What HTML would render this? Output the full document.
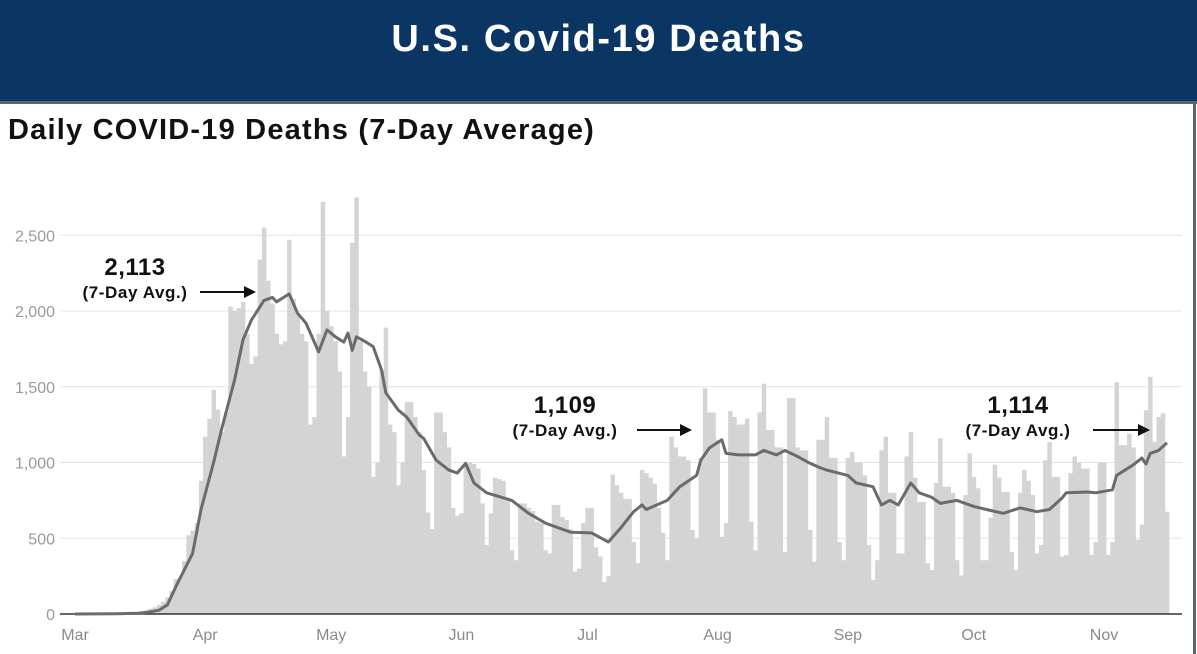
<!DOCTYPE html>
<html><head><meta charset="utf-8"><style>
html,body{margin:0;padding:0;background:#fff;}
body{width:1197px;height:654px;overflow:hidden;position:relative;font-family:"Liberation Sans",sans-serif;}
#hdr{position:absolute;left:0;top:0;width:1197px;height:101px;background:#0b3663;border-bottom:3px solid #5d6670;}
#hdr h1{margin:0;color:#fff;font-size:38px;font-weight:bold;text-align:center;line-height:78px;letter-spacing:1.6px;}
#sub{position:absolute;left:8px;top:114px;font-size:29px;font-weight:bold;color:#111;letter-spacing:1.2px;}
#rb{position:absolute;left:1193px;top:101px;width:3px;height:553px;background:#5d6670;}
svg{position:absolute;left:0;top:0;}
</style></head><body>
<div id="hdr"><h1>U.S. Covid-19 Deaths</h1></div>
<div id="sub">Daily COVID-19 Deaths (7-Day Average)</div>
<div id="rb"></div>
<svg id="chart" width="1197" height="654"></svg>
<script>
const yTicks=[0,500,1000,1500,2000,2500];
const yTickLabels=["0","500","1,000","1,500","2,000","2,500"];
const xMonthDays=[0,31,61,92,122,153,184,214,245];
const xMonthLabels=["Mar","Apr","May","Jun","Jul","Aug","Sep","Oct","Nov"];
const dailyDeaths=[
0,0,1,1,2,2,3,3,4,4,5,6,8,9,12,15,20,25,35,45,60,80,110,150,230,240,350,520,550,600,880,
1170,1290,1480,1350,1200,1330,2030,2000,2020,2060,1850,1650,1700,2340,2550,2200,2050,1850,1780,1800,2470,2080,1980,1850,1800,1250,1300,1850,2720,2000,
1900,1800,1600,1040,1300,2450,2750,1800,1600,1500,905,1000,1610,1890,1250,1200,850,1000,1400,1400,1300,1200,950,670,560,1330,1330,1200,1100,700,650,
665,980,1000,990,960,730,455,665,900,890,880,750,420,355,730,730,700,680,610,600,420,400,720,720,640,620,560,280,300,600,
700,700,440,380,210,250,920,850,800,760,760,475,335,950,930,900,860,700,535,355,1170,1100,1040,1040,1015,555,500,1030,1490,1330,1330,
1150,510,600,1340,1300,1250,1250,1290,610,420,1330,1520,1215,1215,1100,1100,410,1425,1425,1100,1080,1080,555,345,1150,1150,1300,1030,1030,475,355,
1030,1070,1000,1000,915,455,225,355,1080,1170,800,800,400,400,1040,1200,900,740,740,335,290,865,1160,840,840,800,355,255,785,1060,
905,830,355,355,635,985,900,805,805,410,290,800,950,880,785,400,455,1015,1135,905,905,380,390,930,1040,1000,960,960,390,475,1000,
1000,390,475,1530,1115,1115,1190,1100,490,590,1345,1565,1135,1300,1325,675];
const avgDays=[0,10,15,17,20,22,24,26,28,30,33,35,38,40,42,45,47,48,51,53,55,58,60,62,64,65,66,67,69,71,73,74,77,79,82,83,86,89,91,93,95,98,104,108,112,118,123,127,130,133,135,136,141,144,148,149,151,154,155,158,162,164,167,169,172,175,177,179,184,186,190,192,194,196,199,201,204,206,210,214,217,221,225,229,232,235,236,241,243,247,248,252,254,255,256,258,260];
const avgValues=[0,2,5,10,25,60,180,290,400,690,1000,1230,1545,1810,1940,2070,2090,2060,2113,1985,1920,1730,1875,1830,1795,1855,1740,1830,1800,1765,1610,1460,1345,1300,1180,1160,1015,950,930,995,865,800,750,665,600,540,535,475,570,675,720,690,750,840,915,1015,1095,1150,1060,1050,1050,1080,1050,1080,1040,995,970,950,915,865,840,720,750,720,865,800,770,730,750,710,690,665,700,675,690,765,800,805,800,820,915,985,1030,990,1060,1080,1130];

const svg=document.getElementById('chart');
const NS='http://www.w3.org/2000/svg';
const x0=75,dayW=4.2,yBase=614,pxPer=0.1515;
function xs(d){return x0+d*dayW;}
function ys(v){return yBase-v*pxPer;}
function mk(tag,attrs){const e=document.createElementNS(NS,tag);for(const k in attrs)e.setAttribute(k,attrs[k]);svg.appendChild(e);return e;}

yTicks.forEach((t,i)=>{
  if(t>0){const g=mk('line',{x1:60,x2:1182,y1:ys(t),y2:ys(t),stroke:'#e3e3e3','stroke-width':1});
  
  }
  const tx=mk('text',{x:55,y:ys(t)+6,'text-anchor':'end','font-size':16,fill:'#9a9a9a','font-family':'Liberation Sans, sans-serif'});
  tx.textContent=yTickLabels[i];
  
  
});
dailyDeaths.forEach((v,d)=>{
  const r=mk('rect',{x:xs(d)-2.1,y:ys(v),width:dayW+0.3,height:v*pxPer,fill:'#d4d4d4'});
  
  
});
const ax=mk('line',{x1:60,x2:1182,y1:yBase,y2:yBase,stroke:'#333','stroke-width':1.5});


xMonthDays.forEach((d,i)=>{
  const tx=mk('text',{x:xs(d),y:640,'text-anchor':'middle','font-size':16,fill:'#8a8a8a','font-family':'Liberation Sans, sans-serif'});
  tx.textContent=xMonthLabels[i];
  
  
});
const pts=avgDays.map((d,i)=>xs(d).toFixed(1)+','+ys(avgValues[i]).toFixed(1)).join(' ');
const pl=mk('polyline',{points:pts,fill:'none',stroke:'#6b6b6b','stroke-width':3,'stroke-linejoin':'round'});



const notes=[[135,"2,113",200,256,292],[565,"1,109",637,692,430],[1018,"1,114",1093,1150,430]];
notes.forEach(n=>{
  const a=mk('text',{x:n[0],y:n[4]-17,'text-anchor':'middle','font-size':24,'font-weight':'bold',fill:'#111','letter-spacing':'0.5','font-family':'Liberation Sans, sans-serif'});
  a.textContent=n[1];
  
  
  const b=mk('text',{x:n[0],y:n[4]+6,'text-anchor':'middle','font-size':17,'font-weight':'bold',fill:'#111','letter-spacing':'0.6','font-family':'Liberation Sans, sans-serif'});
  b.textContent='(7-Day Avg.)';
  
  
  const l=mk('line',{x1:n[2],x2:n[3]-10,y1:n[4],y2:n[4],stroke:'#111','stroke-width':2});
  
  
  const h=mk('polygon',{points:(n[3]-12)+','+(n[4]-6)+' '+n[3]+','+n[4]+' '+(n[3]-12)+','+(n[4]+6),fill:'#111'});
  
  
});
</script>
</body></html>
